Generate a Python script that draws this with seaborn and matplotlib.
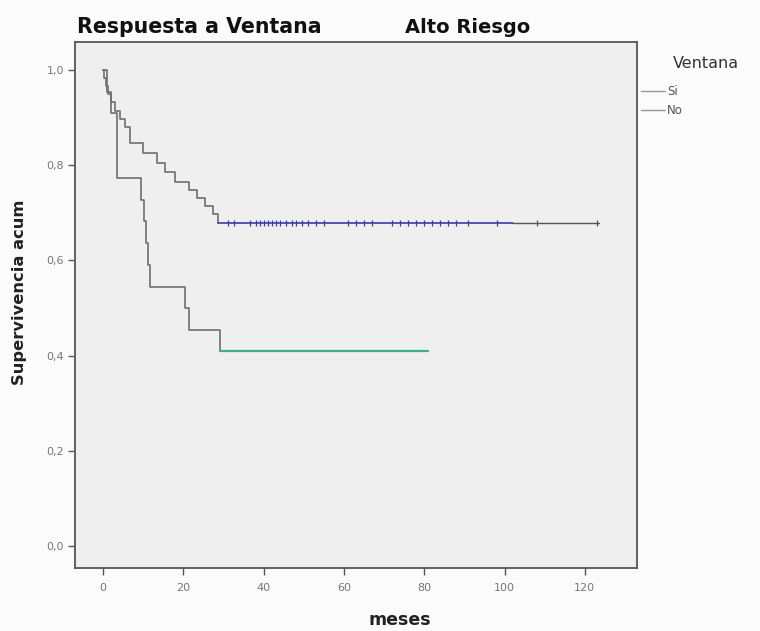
import numpy as np
import pandas as pd
import matplotlib
matplotlib.use("Agg")
import matplotlib.pyplot as plt
import seaborn as sns
from matplotlib.lines import Line2D

# ---- data ----
si_times = [0, 0.3, 0.7, 1.2, 2.0, 3.0, 4.2, 5.5, 6.7, 6.8, 10.0, 13.5, 15.5, 17.8, 21.5, 23.5, 25.3, 27.3, 28.5]
si_surv = [1.0, 0.983, 0.966, 0.949, 0.932, 0.915, 0.898, 0.881, 0.864, 0.847, 0.825, 0.805, 0.786, 0.765, 0.748, 0.731, 0.714, 0.697, 0.678]
si_end = 123.5
si_color_change = 102
si_censor = [31, 32.5, 36.5, 38, 39, 40, 41, 42, 43, 44, 45.5, 47, 48, 49.5, 51, 53, 55,
             61, 63, 65, 67, 72, 74, 76, 78, 80, 82, 84, 86, 88, 91, 98, 108, 123]

no_times = [0, 1.0, 2.0, 3.5, 9.5, 10.2, 10.8, 11.3, 11.8, 20.5, 21.5, 29]
no_surv = [1.0, 0.955, 0.909, 0.773, 0.727, 0.682, 0.636, 0.591, 0.545, 0.5, 0.455, 0.409]
no_end = 81

x_ticks = [0, 20, 40, 60, 80, 100, 120]
y_ticks = [0.0, 0.2, 0.4, 0.6, 0.8, 1.0]
y_tick_labels = ["0,0", "0,2", "0,4", "0,6", "0,8", "1,0"]
groups = ["Si", "No"]

# ---- style ----
sns.set_theme(style="white")
plt.rcParams["font.family"] = ["DejaVu Sans"]

W, H = 760, 631
fig = plt.figure(figsize=(W / 100, H / 100), dpi=100, facecolor="#fbfbfb")
ax = fig.add_axes([75 / W, 1 - 568 / H, (637 - 75) / W, (568 - 42) / H])
ax.set_facecolor("#efefef")

grey = "#6e6e6e"
blue = "#3c3ca8"
green = "#3fae88"

# Si curve: stepped part
sns.lineplot(x=si_times, y=si_surv, drawstyle="steps-post", estimator=None, sort=False,
             color=grey, linewidth=1.2, ax=ax)
# Si flat part
s_final = si_surv[-1]
sns.lineplot(x=[si_times[-1], si_color_change], y=[s_final, s_final], estimator=None,
             color=blue, linewidth=1.2, ax=ax)
sns.lineplot(x=[si_color_change, si_end], y=[s_final, s_final], estimator=None,
             color="#555555", linewidth=1.0, ax=ax)
c_blue = [t for t in si_censor if t < si_color_change]
c_grey = [t for t in si_censor if t >= si_color_change]
sns.scatterplot(x=c_blue, y=[s_final] * len(c_blue), marker="|", s=22, linewidth=0.9,
                color=blue, ax=ax)
sns.scatterplot(x=c_grey, y=[s_final] * len(c_grey), marker="|", s=22, linewidth=0.9,
                color="#555555", ax=ax)

# No curve
sns.lineplot(x=no_times, y=no_surv, drawstyle="steps-post", estimator=None, sort=False,
             color=grey, linewidth=1.2, ax=ax)
n_final = no_surv[-1]
sns.lineplot(x=[no_times[-1], no_end], y=[n_final, n_final], estimator=None,
             color=green, linewidth=1.6, ax=ax)

ax.set_xlim(-7, 133)
ax.set_ylim(-0.046, 1.059)
ax.set_xticks(x_ticks)
ax.set_xticklabels([str(v) for v in x_ticks])
ax.set_yticks(y_ticks)
ax.set_yticklabels(y_tick_labels)
ax.tick_params(axis="both", direction="out", length=5, width=1, color="#555555",
               labelsize=8, labelcolor="#777777")
ax.tick_params(axis="x", pad=6)
ax.tick_params(axis="y", pad=3)
ax.tick_params(axis="both", which="both", bottom=True, left=True)
for sp in ax.spines.values():
    sp.set_color("#555555")
    sp.set_linewidth(1.3)

ax.set_xlabel("meses", fontsize=12.5, fontweight="bold", color="#222222")
ax.xaxis.set_label_coords((400 - 75) / 562, -(620 - 568) / 526, transform=ax.transAxes)
ax.xaxis.label.set_va("center")
ax.set_ylabel("Supervivencia acum", fontsize=11.7, fontweight="bold", color="#222222")
ax.yaxis.set_label_coords((20 - 75) / 562, (568 - 292) / 526, transform=ax.transAxes)
ax.yaxis.label.set_va("center")

fig.text(77 / W, 1 - 33 / H, "Respuesta a Ventana", fontsize=14.8, fontweight="bold",
         color="#111111", ha="left", va="baseline")
fig.text(468 / W, 1 - 33 / H, "Alto Riesgo", fontsize=14, fontweight="bold",
         color="#111111", ha="center", va="baseline")

fig.text(706 / W, 1 - 64 / H, "Ventana", fontsize=11.5, color="#333333",
         ha="center", va="center")
handles = [Line2D([0], [0], color="#999999", lw=1),
           Line2D([0], [0], color="#999999", lw=1)]
leg = fig.legend(handles=handles, labels=groups, loc="upper left",
                 bbox_to_anchor=(641 / W, 1 - 85 / H), frameon=False, fontsize=8.5,
                 handlelength=2.0, handletextpad=0.2, labelspacing=0.55, borderpad=0,
                 borderaxespad=0)
for t in leg.get_texts():
    t.set_color("#555555")

fig.savefig("out.png", dpi=100, facecolor=fig.get_facecolor())
